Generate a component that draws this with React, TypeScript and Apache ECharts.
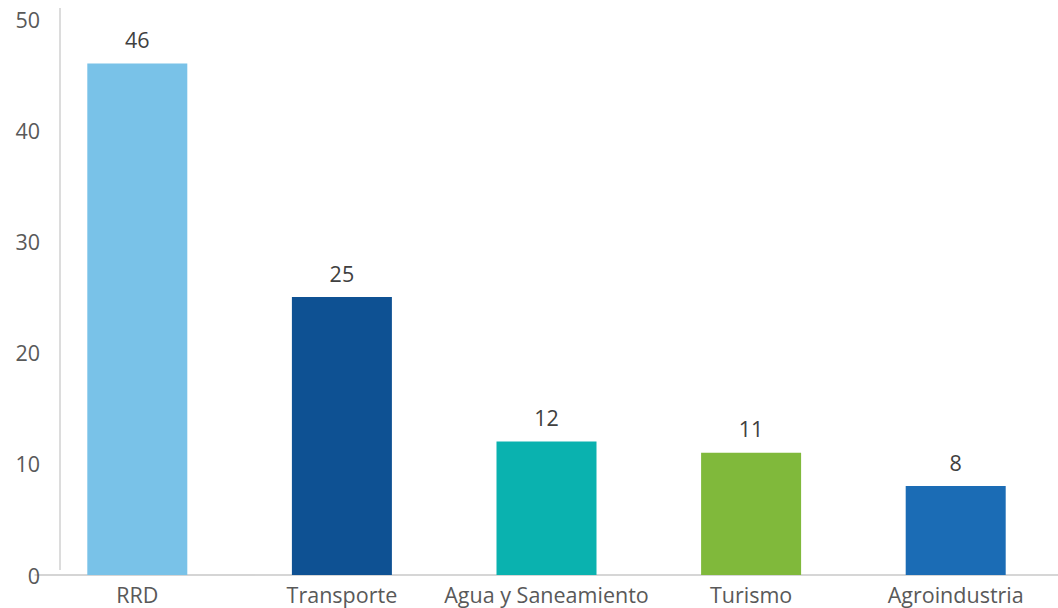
import React, { useEffect, useRef } from "react";
import * as echarts from "echarts";

const categories = ["RRD", "Transporte", "Agua y Saneamiento", "Turismo", "Agroindustria"];
const values = [46, 25, 12, 11, 8];
const barColors = ["#79C2E8", "#0E5193", "#0AB2AF", "#80B93B", "#1B6CB5"];
const yTicks = { min: 0, max: 50, interval: 10 };

export default function App() {
  const ref = useRef<HTMLDivElement>(null);
  useEffect(() => {
    document.body.style.margin = "0";
    const chart = echarts.init(ref.current!, null, { renderer: "svg" });
    chart.setOption({
      animation: false,
      textStyle: { fontFamily: "Open Sans" },
      grid: { left: 35, right: -16, top: 19, bottom: 33, containLabel: false },
      xAxis: {
        type: "category",
        data: categories,
        axisLine: { show: true, lineStyle: { color: "#C8C8C8", width: 1.5 } },
        axisTick: { show: false },
        axisLabel: { color: "#595959", fontSize: 21.5, margin: 8, interval: 0 },
      },
      yAxis: {
        type: "value",
        min: yTicks.min,
        max: yTicks.max,
        interval: yTicks.interval,
        axisLine: { show: false },
        axisTick: { show: false },
        splitLine: { show: false },
        axisLabel: { color: "#595959", fontSize: 21.5, margin: -5 },
      },
      graphic: [
        {
          type: "line",
          shape: { x1: 60, y1: 8, x2: 60, y2: 570 },
          style: { stroke: "#D0D0D0", lineWidth: 1.5 },
        },
      ],
      series: [
        {
          type: "bar",
          data: values.map((v, i) => ({ value: v, itemStyle: { color: barColors[i] } })),
          barWidth: 100,
          label: {
            show: true,
            position: "top",
            distance: 13,
            color: "#404040",
            fontSize: 21.5,
          },
        },
      ],
    });
    return () => chart.dispose();
  }, []);
  return <div ref={ref} style={{ width: 1058, height: 608 }} />;
}
